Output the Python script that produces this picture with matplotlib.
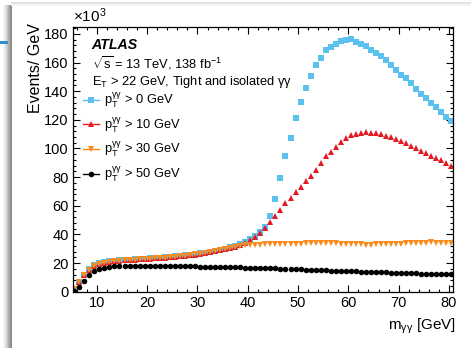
import numpy as np
import matplotlib
matplotlib.use("Agg")
import matplotlib.pyplot as plt
from matplotlib.lines import Line2D
from matplotlib.patches import Rectangle
from matplotlib.ticker import MultipleLocator

plt.rcParams['font.family'] = ['Liberation Sans', 'DejaVu Sans']
plt.rcParams['mathtext.fontset'] = 'custom'
plt.rcParams['mathtext.rm'] = 'Liberation Sans'
plt.rcParams['mathtext.it'] = 'Liberation Sans'
plt.rcParams['mathtext.bf'] = 'Liberation Sans:bold'

# diphoton mass bin centres, 1 GeV bins
m_gg = np.arange(5.5, 81.0, 1.0)

# events / GeV in units of 10^3
pt0 = [2.2, 6.8, 12.0, 15.6, 18.4, 19.8, 20.5, 21.2, 21.6, 21.9, 22.1, 22.3, 22.6, 22.8, 23.1,
       23.3, 23.5, 23.7, 24.0, 24.3, 24.6, 25.0, 25.4, 25.8, 26.2, 26.7, 27.2, 27.8, 28.5, 29.2,
       30.0, 30.9, 31.8, 33.0, 34.8, 36.5, 38.7, 41.6, 45.3, 52.8, 64.6, 79.6, 94.7, 107.6, 121.3,
       132.3, 142.3, 150.5, 158.2, 163.0, 168.4, 170.8, 172.8, 175.1, 175.4, 176.3, 174.2, 173.0,
       171.8, 168.9, 166.5, 164.2, 161.9, 158.4, 154.8, 151.4, 149.1, 145.5, 141.6, 138.1, 135.0,
       132.0, 128.8, 125.7, 122.2, 119.2]
pt10 = [2.0, 6.5, 11.7, 15.2, 18.0, 19.5, 20.2, 20.9, 21.3, 21.6, 21.8, 22.0, 22.3, 22.5, 22.8,
        23.0, 23.2, 23.4, 23.7, 24.0, 24.3, 24.7, 25.1, 25.5, 25.9, 26.4, 26.9, 27.5, 28.2, 28.9,
        29.7, 30.6, 31.5, 32.6, 34.3, 36.1, 37.9, 40.7, 44.8, 48.8, 52.6, 57.0, 61.7, 65.1, 69.8,
        73.2, 77.3, 80.8, 84.9, 89.7, 94.5, 97.8, 100.8, 104.8, 107.2, 109.4, 110.1, 111.1, 111.7,
        111.1, 110.6, 109.9, 108.7, 107.8, 106.7, 105.2, 104.0, 101.7, 100.1, 98.5, 96.6, 94.7,
        93.1, 91.9, 89.6, 87.8]
pt30 = [2.0, 6.6, 11.8, 15.3, 18.2, 19.6, 20.3, 21.0, 21.4, 21.7, 21.9, 22.1, 22.4, 22.6, 22.9,
        23.1, 23.3, 23.5, 23.8, 24.1, 24.4, 24.8, 25.2, 25.6, 26.0, 26.5, 27.0, 27.6, 28.3, 29.0,
        29.8, 30.7, 31.4, 31.9, 32.3, 32.5, 32.7, 32.8, 33.0, 33.2, 33.3, 33.4, 33.5, 33.5, 33.6,
        33.6, 33.7, 33.8, 34.0, 34.1, 34.0, 33.9, 33.8, 33.6, 33.4, 33.2, 33.1, 33.0, 32.9, 32.9,
        33.0, 33.0, 33.1, 33.2, 33.4, 33.6, 33.8, 34.0, 34.1, 34.2, 34.3, 34.4, 34.3, 34.2, 34.1,
        34.0]
pt50 = [0.6, 3.5, 7.8, 11.8, 14.1, 15.6, 16.5, 17.2, 17.6, 17.8, 17.9, 18.0, 18.0, 18.0, 18.1,
        18.0, 18.0, 18.0, 17.9, 17.9, 17.8, 17.8, 17.7, 17.6, 17.6, 17.5, 17.5, 17.4, 17.3, 17.3,
        17.2, 17.1, 17.0, 16.9, 16.8, 16.7, 16.6, 16.5, 16.4, 16.3, 16.2, 16.1, 15.9, 15.8, 15.6,
        15.5, 15.4, 15.3, 15.1, 15.0, 14.9, 14.7, 14.6, 14.4, 14.3, 14.2, 14.1, 13.9, 13.8, 13.7,
        13.6, 13.5, 13.4, 13.2, 13.1, 13.0, 12.9, 12.9, 12.8, 12.7, 12.6, 12.6, 12.5, 12.4, 12.3,
        12.3]

labels = [r'$\mathrm{p}_{\mathrm{T}}^{\gamma\gamma}$ > 0 GeV',
          r'$\mathrm{p}_{\mathrm{T}}^{\gamma\gamma}$ > 10 GeV',
          r'$\mathrm{p}_{\mathrm{T}}^{\gamma\gamma}$ > 30 GeV',
          r'$\mathrm{p}_{\mathrm{T}}^{\gamma\gamma}$ > 50 GeV']
colors = ['#5bc1ee', '#e41a22', '#fb8a1c', '#000000']
markers = ['s', '^', 'v', 'o']
sizes = [4.2, 4.4, 4.4, 4.0]

fig = plt.figure(figsize=(4.71, 3.48), dpi=100)
ax = fig.add_axes([0.1544, 0.1618, 0.8068, 0.7615])

series = [pt0, pt10, pt30, pt50]
handles = []
for vals, c, mk, ms, lab in zip(series, colors, markers, sizes, labels):
    ax.plot(m_gg, vals, linestyle='none', marker=mk, ms=ms, color=c, mew=0)
    handles.append(Line2D([], [], color=c, marker=mk, ms=ms, mew=0, lw=1.0, label=lab))

ax.set_xlim(5.2, 80.75)
ax.set_ylim(0, 185)
ax.xaxis.set_major_locator(MultipleLocator(10))
ax.xaxis.set_minor_locator(MultipleLocator(2))
ax.yaxis.set_major_locator(MultipleLocator(20))
ax.yaxis.set_minor_locator(MultipleLocator(4))
ax.tick_params(which='both', direction='in', top=True, right=True, labelsize=10.5)
ax.tick_params(which='major', length=5, width=0.8, pad=3)
ax.tick_params(which='minor', length=2.5, width=0.8)
for sp in ax.spines.values():
    sp.set_linewidth(0.9)

ax.set_ylabel('Events/ GeV', loc='top', fontsize=11.5, labelpad=1)
ax.yaxis.label.set_y(1.013)
ax.set_xlabel(r'm$_{\gamma\gamma}$ [GeV]', loc='right', fontsize=11, labelpad=5)
ax.xaxis.label.set_x(1.008)
ax.text(0.0, 1.005, r'$\times$10$^{3}$', transform=ax.transAxes, ha='left', va='bottom',
        fontsize=11)

ax.text(0.05, 0.93, 'ATLAS', transform=ax.transAxes, fontsize=10.2,
        fontweight='bold', style='italic', va='center')
ax.text(0.05, 0.863, r'$\sqrt{s}$ = 13 TeV, 138 fb$^{-1}$', transform=ax.transAxes,
        fontsize=9.3, va='center')
ax.text(0.05, 0.793, r'E$_{\mathrm{T}}$ > 22 GeV, Tight and isolated $\gamma\gamma$',
        transform=ax.transAxes, fontsize=9.3, va='center')
ax.legend(handles=handles, loc='upper left', bbox_to_anchor=(0.026, 0.758), frameon=False,
          fontsize=9.3, handlelength=1.25, handletextpad=0.4, labelspacing=0.43,
          borderaxespad=0, borderpad=0)

# window edge along the left and top of the canvas
W, H = 471.0, 348.0
for i, g in enumerate(['#f6f6f6', '#eeeeee', '#e3e3e3', '#d6d6d6', '#c6c6c6', '#b4b4b4',
                       '#a2a2a2', '#929292']):
    fig.add_artist(Rectangle(((3 + i) / W, 0), 1 / W, 1 - 5 / H, transform=fig.transFigure,
                             color=g, lw=0))
fig.add_artist(Rectangle((11 / W, 0), 1.2 / W, 1 - 5 / H, transform=fig.transFigure,
                         color='#8a8a8a', lw=0))
for j, g in enumerate(['#f8f8f8', '#f1f1f1', '#e9e9e9', '#e0e0e0']):
    fig.add_artist(Rectangle((11 / W, 1 - (6 - j) / H), 1 - 11 / W, 1 / H,
                             transform=fig.transFigure, color=g, lw=0))
fig.add_artist(Rectangle((0, 1 - 44 / H), 8 / W, 3 / H, transform=fig.transFigure,
                         color='#2f8dd0', lw=0))

fig.savefig('out.png', dpi=100)
